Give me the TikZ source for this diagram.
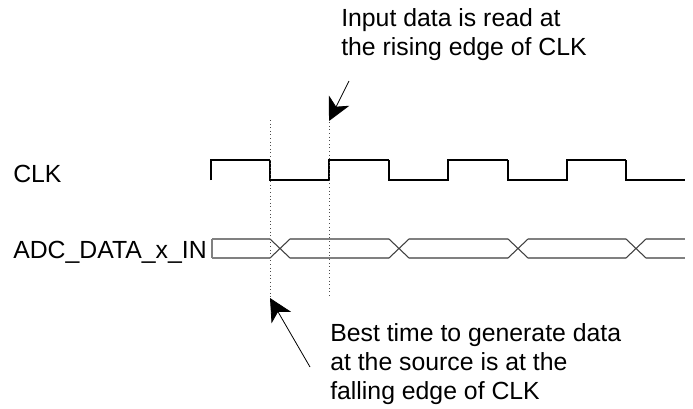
\documentclass[tikz,border=0pt]{standalone}
\usepackage{fontspec}
\setmainfont{Liberation Sans}
\usetikzlibrary{arrows.meta}

\begin{document}
\begin{tikzpicture}[x=0.75pt, y=-0.75pt, >={Stealth[length=17pt, width=17pt, inset=5pt]},
    every node/.style={font=\fontsize{18.6}{21.75}\selectfont, inner sep=0pt},
    clk/.style={line width=0.9pt, black},
    bus/.style={line width=0.9pt, gray},
    busx/.style={line width=0.8pt, black!75},
    guide/.style={dotted, black!70, line width=0.7pt},
    pointer/.style={->, line width=0.6pt}]
    \useasboundingbox (0,0) rectangle (693,408);
    
    % signal names
    \node[anchor=base west] (clkname) at (13,182) {CLK};
    \node[anchor=base west] (dataname) at (13,258) {ADC\_DATA\_x\_IN};
    
    % CLK waveform
    \draw[clk] (211,180) -- (211,160) -- (270,160);
    \foreach \f/\r/\n in {270/329/389, 389/448/508, 508/567/626}
        \draw[clk] (\f,160) -- (\f,180) -- (\r,180) -- (\r,160) -- (\n,160);
    \draw[clk] (626,160) -- (626,180) -- (685,180);
    
    % data bus with a change at every falling edge
    \draw[bus] (212,239) -- (212,258);
    \draw[bus] (212,239) -- (270,239) (212,258) -- (270,258);
    \foreach \a/\b in {270/389, 389/508, 508/626, 626/685} {
        \draw[busx] (\a,239) -- (\a+20,258) (\a,258) -- (\a+20,239);
        \draw[bus] (\a+20,239) -- (\b,239) (\a+20,258) -- (\b,258);
    }
    
    % guides at the two edges
    \coordinate (fallTop) at (270,120);
    \coordinate (fallEnd) at (270,298);
    \coordinate (riseTop) at (329,97);
    \coordinate (riseEnd) at (329,297);
    \coordinate (riseTip) at (329,121);
    \draw[guide] (fallTop) -- (fallEnd);
    \draw[guide] (riseTop) -- (riseEnd);
    
    % notes (base = last line)
    \node[anchor=base west, align=left] (readnote) at (341,55) {Input data is read at\\the rising edge of CLK};
    \node[anchor=base west, align=left] (gennote) at (330,399) {Best time to generate data\\at the source is at the\\falling edge of CLK};
    \coordinate (readtail) at (349,81);
    \coordinate (gentail) at (310,367);
    \draw[pointer] (readtail) -- (riseTip);
    \draw[pointer] (gentail) -- (fallEnd);
\end{tikzpicture}
\end{document}
